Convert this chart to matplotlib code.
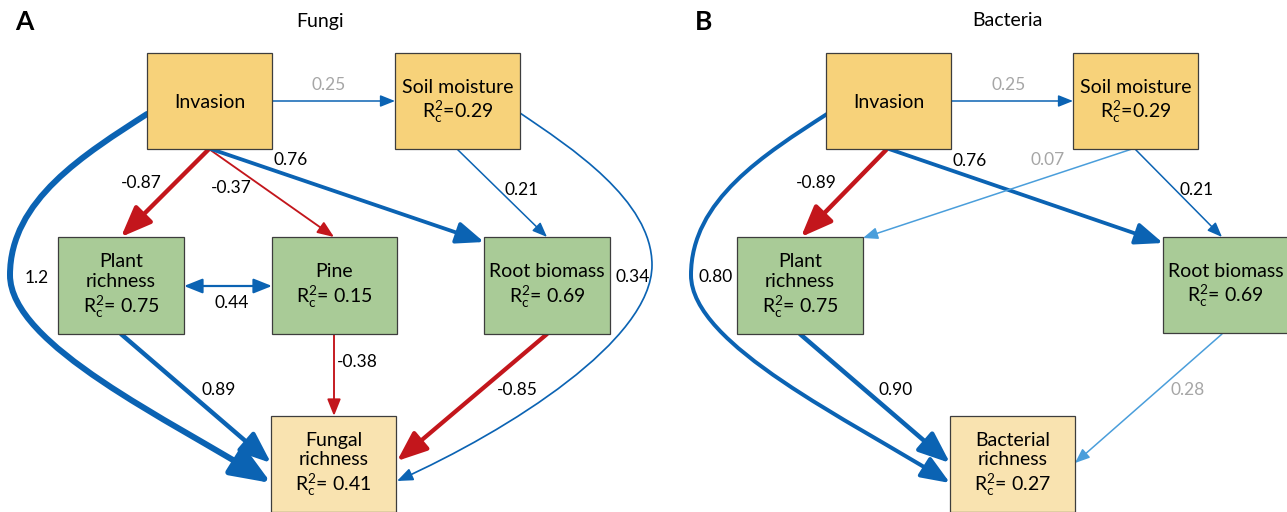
import matplotlib
matplotlib.use('Agg')
import matplotlib.pyplot as plt
from matplotlib.patches import Rectangle, FancyArrowPatch
from matplotlib.path import Path

plt.rcParams['font.family'] = ['Lato', 'DejaVu Sans']

# ---- path model results ----
fungi_nodes = ['Invasion', 'Soil moisture', 'Plant richness', 'Pine',
               'Root biomass', 'Fungal richness']
fungi_r2 = [None, 0.29, 0.75, 0.15, 0.69, 0.41]
fungi_src = ['Invasion', 'Invasion', 'Invasion', 'Invasion', 'Soil moisture',
             'Soil moisture', 'Invasion', 'Plant richness', 'Plant richness',
             'Pine', 'Root biomass']
fungi_dst = ['Soil moisture', 'Plant richness', 'Pine', 'Root biomass',
             'Root biomass', 'Fungal richness', 'Fungal richness',
             'Fungal richness', 'Pine', 'Fungal richness', 'Fungal richness']
fungi_coef = [0.25, -0.87, -0.37, 0.76, 0.21, 0.34, 1.2, 0.89, 0.44, -0.38, -0.85]
fungi_status = ['marginal', 'sig', 'sig', 'sig', 'sig', 'sig', 'sig', 'sig',
                'sig', 'sig', 'sig']

bact_nodes = ['Invasion', 'Soil moisture', 'Plant richness', 'Root biomass',
              'Bacterial richness']
bact_r2 = [None, 0.29, 0.75, 0.69, 0.27]
bact_src = ['Invasion', 'Invasion', 'Invasion', 'Soil moisture', 'Soil moisture',
            'Invasion', 'Plant richness', 'Root biomass']
bact_dst = ['Soil moisture', 'Plant richness', 'Root biomass', 'Plant richness',
            'Root biomass', 'Bacterial richness', 'Bacterial richness',
            'Bacterial richness']
bact_coef = [0.25, -0.89, 0.76, 0.07, 0.21, 0.80, 0.90, 0.28]
bact_status = ['marginal', 'sig', 'sig', 'ns', 'sig', 'sig', 'sig', 'ns']

# ---- drawing layout (pixel units, y down) ----
fungi_boxes = {
    'Invasion': (147, 53, 272, 149),
    'Soil moisture': (395, 53, 520, 149),
    'Plant richness': (58, 237, 184, 334),
    'Pine': (272, 237, 397, 334),
    'Root biomass': (484, 237, 610, 334),
    'Fungal richness': (271, 416, 396, 512),
}
fungi_geom = [
    [(272, 101), (395, 101)],
    [(209, 149), (121, 237)],
    [(209, 149), (334, 237)],
    [(211, 149), (484, 242)],
    [(457, 149), (547, 237)],
    [(520, 113), (570, 147), (652, 200), (652, 265), (652, 340), (510, 430), (397, 481)],
    [(147, 114), (85, 154), (10, 200), (10, 275), (10, 345), (170, 420), (271, 483)],
    [(121, 334), (271, 463)],
    [(184, 286), (272, 286)],
    [(334, 334), (334, 416)],
    [(547, 334), (397, 461)],
]
fungi_lab = [(329, 85), (141, 183), (231, 188), (291, 160), (522, 190), (633, 277),
             (37, 278), (219, 390), (232, 303), (357, 362), (517, 390)]

bact_boxes = {
    'Invasion': (826, 53, 951, 149),
    'Soil moisture': (1073, 53, 1198, 149),
    'Plant richness': (737, 237, 863, 334),
    'Root biomass': (1163, 237, 1288, 333),
    'Bacterial richness': (950, 416, 1075, 512),
}
bact_geom = [
    [(951, 101), (1073, 101)],
    [(887, 149), (801, 237)],
    [(889, 149), (1163, 243)],
    [(1132, 149), (863, 238)],
    [(1135, 149), (1222, 237)],
    [(827, 114), (765, 154), (691, 200), (691, 275), (691, 345), (850, 420), (950, 483)],
    [(800, 334), (950, 463)],
    [(1222, 334), (1075, 463)],
]
bact_lab = [(1009, 85), (816, 183), (970, 161), (1048, 160), (1197, 190), (716, 277),
            (896, 390), (1188, 390)]

BLUE = '#0b63b3'
LIGHT_BLUE = '#4a9edb'
RED = '#c3161c'
GREY_TXT = '#a6a6a6'
EXOG = '#f7d27a'
MEDIATOR = '#a9cb97'
RESPONSE = '#f9e3b0'


def box_label(name, r2):
    text = name.replace('Plant richness', 'Plant\nrichness') \
               .replace('Fungal richness', 'Fungal\nrichness') \
               .replace('Bacterial richness', 'Bacterial\nrichness')
    if r2 is not None:
        sep = '' if name == 'Soil moisture' else ' '
        text += '\n$\\mathregular{R^2_c}$=%s%.2f' % (sep, r2)
    return text


def coef_label(c):
    return '%.1f' % c if abs(c) >= 1 else '%.2f' % c


def draw_panel(ax, nodes, r2s, boxes, src, dst, coefs, status, geom, labpos):
    for name, r2 in zip(nodes, r2s):
        x0, y0, x1, y1 = boxes[name]
        if 'richness' in name and name != 'Plant richness':
            fc = RESPONSE
        elif name in ('Invasion', 'Soil moisture'):
            fc = EXOG
        else:
            fc = MEDIATOR
        ax.add_patch(Rectangle((x0, y0), x1 - x0, y1 - y0, facecolor=fc,
                               edgecolor='#3d3d3d', lw=0.9, zorder=3))
        ax.text((x0 + x1) / 2, (y0 + y1) / 2 + 1, box_label(name, r2), ha='center',
                va='center', fontsize=14, linespacing=1.18, zorder=4)

    for s, d, c, st, pts, lp in zip(src, dst, coefs, status, geom, labpos):
        lw = max(1.1, 3.6 * abs(c))
        if c < 0:
            color = RED
        elif st == 'ns':
            color = LIGHT_BLUE
        else:
            color = BLUE
        if len(pts) == 2:
            path = Path(pts, [Path.MOVETO, Path.LINETO])
        else:
            path = Path(pts, [Path.MOVETO] + [Path.CURVE4] * (len(pts) - 1))
        # plant richness and pine are linked by a correlation
        both = (s, d) == ('Plant richness', 'Pine')
        style = '<|-|>' if both else '-|>'
        ax.add_patch(FancyArrowPatch(path=path,
                                     arrowstyle=style + ',head_length=0.6,head_width=0.24',
                                     mutation_scale=6 + 8 * lw, lw=lw, color=color,
                                     zorder=2))
        ax.text(lp[0], lp[1], coef_label(c), ha='center', va='center',
                fontsize=12.5, color='black' if st == 'sig' else GREY_TXT, zorder=4)


fig = plt.figure(figsize=(12.87, 5.12), dpi=100)
ax = fig.add_axes([0, 0, 1, 1])
ax.set_xlim(0, 1287)
ax.set_ylim(512, 0)
ax.axis('off')

draw_panel(ax, fungi_nodes, fungi_r2, fungi_boxes, fungi_src, fungi_dst,
           fungi_coef, fungi_status, fungi_geom, fungi_lab)
draw_panel(ax, bact_nodes, bact_r2, bact_boxes, bact_src, bact_dst,
           bact_coef, bact_status, bact_geom, bact_lab)

ax.text(24, 22, 'A', fontsize=19, fontweight='bold', ha='center', va='center')
ax.text(320, 21, 'Fungi', fontsize=14, ha='center', va='center')
ax.text(704, 22, 'B', fontsize=19, fontweight='bold', ha='center', va='center')
ax.text(1007, 21, 'Bacteria', fontsize=14, ha='center', va='center')

fig.savefig('out.png', dpi=100)
